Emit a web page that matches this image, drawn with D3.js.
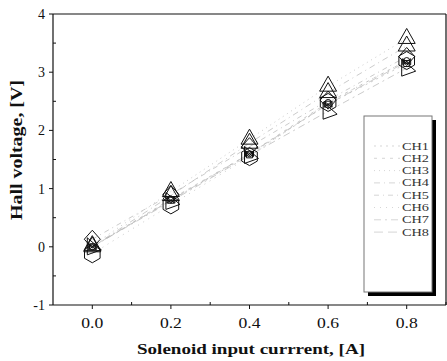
<!DOCTYPE html>
<html>
<head>
<meta charset="utf-8">
<script src="https://cdn.jsdelivr.net/npm/d3@7"></script>
<style>
  body { margin: 0; background: #fff; }
  svg text { font-family: "Liberation Serif", "Times New Roman", serif; fill: #111; }
</style>
</head>
<body>
<div id="chart"></div>
<script>
// data
var currents = [0.0, 0.2, 0.4, 0.6, 0.8];
var channels = ['CH1', 'CH2', 'CH3', 'CH4', 'CH5', 'CH6', 'CH7', 'CH8'];
var ch1 = [0.00, 0.80, 1.58, 2.45, 3.15];
var ch2 = [0.00, 0.82, 1.60, 2.48, 3.20];
var ch3 = [0.02, 0.95, 1.85, 2.76, 3.58];
var ch4 = [0.00, 0.88, 1.78, 2.65, 3.45];
var ch5 = [0.13, 0.90, 1.72, 2.52, 3.27];
var ch6 = [-0.12, 0.72, 1.55, 2.48, 3.20];
var ch7 = [0.00, 0.78, 1.57, 2.33, 3.07];
var ch8 = [0.00, 0.80, 1.60, 2.45, 3.18];
var seriesValues = [ch1, ch2, ch3, ch4, ch5, ch6, ch7, ch8];
var xTicks = [0.0, 0.2, 0.4, 0.6, 0.8];
var yTicks = [-1, 0, 1, 2, 3, 4];

var width = 447, height = 361;
var plotLeft = 53, plotRight = 446, plotTop = 14, plotBottom = 305;

var x = d3.scaleLinear().domain([-0.1, 0.9]).range([plotLeft, plotRight]);
var y = d3.scaleLinear().domain([-1, 4]).range([plotBottom, plotTop]);

var svg = d3.select('#chart').append('svg')
    .attr('width', width)
    .attr('height', height);

// marker shapes
var shapes = {
    square: 'M-3,-3L3,-3L3,3L-3,3Z',
    circle: 'M-3,0A3,3 0 1,0 3,0A3,3 0 1,0 -3,0Z',
    triUp: 'M0,-10L8.5,5L-8.5,5Z',
    diamond: 'M0,-9L8,0L0,9L-8,0Z',
    hexagon: 'M0,-9L7.8,-4.5L7.8,4.5L0,9L-7.8,4.5L-7.8,-4.5Z',
    triRight: 'M-5,-9L9,3L-5,8Z',
    bowtie: 'M-4,-3L4,3L4,-3L-4,3Z'
};
var markerOf = ['square', 'circle', 'triUp', 'triUp', 'diamond', 'hexagon', 'triRight', 'bowtie'];
var dashOf = ['2,4', '3,5', '1,4', '6,4,1,4', '5,4,1,4', '1,5', '7,4,2,4', '9,5'];
var lineColor = '#b4b4b4';

// frame
var frame = svg.append('g').attr('stroke', '#111').attr('stroke-width', 1.2).attr('fill', 'none');
frame.append('line').attr('x1', plotLeft).attr('x2', plotLeft).attr('y1', plotTop).attr('y2', plotBottom);
frame.append('line').attr('x1', plotLeft).attr('x2', plotRight).attr('y1', plotBottom).attr('y2', plotBottom);
frame.append('line').attr('x1', plotLeft).attr('x2', plotRight).attr('y1', plotTop).attr('y2', plotTop);
frame.append('line').attr('x1', plotRight).attr('x2', plotRight).attr('y1', plotTop).attr('y2', plotBottom);

// y ticks: major outside, minor inside
yTicks.forEach(function (t) {
    svg.append('line').attr('x1', plotLeft - 4).attr('x2', plotLeft)
        .attr('y1', y(t)).attr('y2', y(t)).attr('stroke', '#111');
    svg.append('text')
        .attr('x', plotLeft - 8).attr('y', y(t) + 5)
        .attr('text-anchor', 'end')
        .style('font-size', '14px')
        .text(t);
    if (t < 4) {
        svg.append('line').attr('x1', plotLeft).attr('x2', plotLeft + 3)
            .attr('y1', y(t + 0.5)).attr('y2', y(t + 0.5)).attr('stroke', '#111');
    }
});

// x ticks
xTicks.forEach(function (t) {
    svg.append('line').attr('x1', x(t)).attr('x2', x(t))
        .attr('y1', plotBottom).attr('y2', plotBottom + 4).attr('stroke', '#111');
    svg.append('line').attr('x1', x(t + 0.1)).attr('x2', x(t + 0.1))
        .attr('y1', plotBottom).attr('y2', plotBottom - 3).attr('stroke', '#111');
    svg.append('text')
        .attr('x', x(t)).attr('y', 328)
        .attr('text-anchor', 'middle')
        .attr('textLength', 22)
        .attr('lengthAdjust', 'spacingAndGlyphs')
        .style('font-size', '14px')
        .text(t.toFixed(1));
});

// axis titles
svg.append('text')
    .attr('x', 251).attr('y', 354)
    .attr('text-anchor', 'middle')
    .attr('textLength', 228)
    .attr('lengthAdjust', 'spacingAndGlyphs')
    .style('font-size', '15px')
    .style('font-weight', 'bold')
    .text('Solenoid input currrent, [A]');

svg.append('text')
    .attr('transform', 'translate(22,150) rotate(-90)')
    .attr('text-anchor', 'middle')
    .attr('textLength', 140)
    .attr('lengthAdjust', 'spacingAndGlyphs')
    .style('font-size', '16px')
    .style('font-weight', 'bold')
    .text('Hall voltage, [V]');

// series lines
var line = d3.line()
    .x(function (d, i) { return x(currents[i]); })
    .y(function (d) { return y(d); });

var plot = svg.append('g');
seriesValues.forEach(function (vals, s) {
    plot.append('path')
        .attr('d', line(vals))
        .attr('fill', 'none')
        .attr('stroke', lineColor)
        .attr('stroke-width', 0.7)
        .attr('stroke-dasharray', dashOf[s]);
});

// markers
seriesValues.forEach(function (vals, s) {
    plot.selectAll('.m' + s)
        .data(vals)
        .enter().append('path')
        .attr('class', 'm' + s)
        .attr('d', shapes[markerOf[s]])
        .attr('transform', function (d, i) {
            return 'translate(' + x(currents[i]) + ',' + y(d) + ')';
        })
        .attr('fill', 'none')
        .attr('stroke', '#111')
        .attr('stroke-width', 1);
});

// legend with shadow
var lg = svg.append('g');
lg.append('rect').attr('x', 368).attr('y', 120).attr('width', 68).attr('height', 176).attr('fill', '#000');
lg.append('rect').attr('x', 364).attr('y', 116).attr('width', 68).attr('height', 176)
    .attr('fill', '#fff').attr('stroke', '#777').attr('stroke-width', 1);

channels.forEach(function (name, i) {
    var ly = 146 + i * 12.3;
    lg.append('line')
        .attr('x1', 374).attr('x2', 400)
        .attr('y1', ly).attr('y2', ly)
        .attr('stroke', '#c4c4c4')
        .attr('stroke-width', 0.7)
        .attr('stroke-dasharray', dashOf[i]);
    lg.append('text')
        .attr('x', 402).attr('y', ly + 3.5)
        .attr('textLength', 27)
        .attr('lengthAdjust', 'spacingAndGlyphs')
        .style('font-size', '10.5px')
        .style('fill', '#333')
        .text(name);
});
</script>
</body>
</html>
